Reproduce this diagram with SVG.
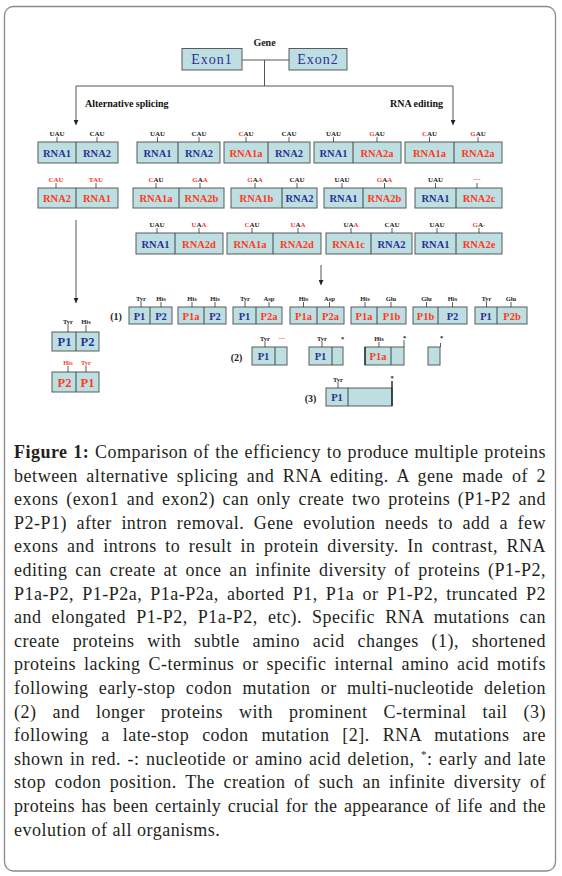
<svg xmlns="http://www.w3.org/2000/svg" width="562" height="876" viewBox="0 0 562 876">
<style>
.bx{fill:#bddfe2;stroke:#5a5a5a;stroke-width:1}
.dv{stroke:#444;stroke-width:1}
.tk{stroke:#333;stroke-width:0.8}
.ln{stroke:#555;stroke-width:1;fill:none}
.rn{font-family:"Liberation Serif",serif;font-size:10.5px;font-weight:bold;text-anchor:middle}
.pn{font-family:"Liberation Serif",serif;font-size:10.5px;font-weight:bold;text-anchor:middle}
.pb{font-family:"Liberation Serif",serif;font-size:12.5px;font-weight:bold;text-anchor:middle}
.cd{font-family:"Liberation Serif",serif;font-size:7px;font-weight:bold;text-anchor:middle;fill:#222}
.pl{font-family:"Liberation Serif",serif;font-size:6.5px;font-weight:bold;text-anchor:middle;fill:#222}
.hd{font-family:"Liberation Serif",serif;font-size:10px;font-weight:bold;fill:#111}
.nm{font-family:"Liberation Serif",serif;font-size:10px;font-weight:bold;text-anchor:middle;fill:#222}
.b{fill:#2c3193}
.r{fill:#ff3a1c}
.cap{font-family:"Liberation Serif",serif;font-size:18px;fill:#231f20;letter-spacing:0.5px}
</style>
<defs>
<marker id="ah" viewBox="0 0 6 6" refX="6" refY="3" markerWidth="5" markerHeight="5" orient="auto" markerUnits="userSpaceOnUse">
<path d="M0,0 L6,3 L0,6 z" fill="#222"/>
</marker>
</defs>
<rect x="4.5" y="6.5" width="551" height="864.5" rx="9" fill="#fff" stroke="#8a8a8a" stroke-width="1.3"/>

<g id="connectors">
<line class="ln" x1="242" y1="60" x2="289" y2="60"/>
<line class="ln" x1="264.5" y1="60" x2="264.5" y2="86"/>
<line class="ln" x1="76" y1="86" x2="453" y2="86"/>
<line class="ln" x1="76" y1="86" x2="76" y2="125" marker-end="url(#ah)"/>
<line class="ln" x1="453" y1="86" x2="453" y2="125" marker-end="url(#ah)"/>
<line class="ln" x1="76" y1="220" x2="76" y2="303" marker-end="url(#ah)"/>
<line class="ln" x1="321" y1="265" x2="321" y2="285" marker-end="url(#ah)"/>
</g>

<g id="gene">
<text class="nm" x="264.5" y="46" font-size="9.5">Gene</text>
</g>
<g id="exon1">
<rect class="bx" x="182" y="48.5" width="60" height="21.5"/>
<text x="212" y="64" font-family="Liberation Serif,serif" font-size="14" letter-spacing="1" text-anchor="middle" class="b">Exon1</text>
</g>
<g id="exon2">
<rect class="bx" x="289" y="48.5" width="58" height="21.5"/>
<text x="318" y="64" font-family="Liberation Serif,serif" font-size="14" letter-spacing="1" text-anchor="middle" class="b">Exon2</text>
</g>
<g id="labels">
<text class="hd" x="85" y="107">Alternative splicing</text>
<text class="hd" x="443" y="107" text-anchor="end">RNA editing</text>
</g>

<!-- Row 1 RNA -->
<g id="rna-r1-a">
<rect class="bx" x="38" y="142" width="80" height="21"/><line class="dv" x1="76" y1="142" x2="76" y2="163"/>
<line class="tk" x1="57" y1="137" x2="57" y2="142"/><line class="tk" x1="97" y1="137" x2="97" y2="142"/>
<text class="cd" x="57" y="135.5">UAU</text><text class="cd" x="97" y="135.5">CAU</text>
<text class="rn b" x="57" y="156.5">RNA1</text><text class="rn b" x="97" y="156.5">RNA2</text>
</g>
<g id="rna-r1-b">
<rect class="bx" x="137" y="142" width="83" height="21"/><line class="dv" x1="178" y1="142" x2="178" y2="163"/>
<line class="tk" x1="157.5" y1="137" x2="157.5" y2="142"/><line class="tk" x1="199" y1="137" x2="199" y2="142"/>
<text class="cd" x="157.5" y="135.5">UAU</text><text class="cd" x="199" y="135.5">CAU</text>
<text class="rn b" x="157.5" y="156.5">RNA1</text><text class="rn b" x="199" y="156.5">RNA2</text>
</g>
<g id="rna-r1-c">
<rect class="bx" x="224" y="142" width="86" height="21"/><line class="dv" x1="268" y1="142" x2="268" y2="163" stroke="#111"/>
<line class="tk" x1="246" y1="137" x2="246" y2="142"/><line class="tk" x1="289" y1="137" x2="289" y2="142"/>
<text class="cd" x="246" y="135.5"><tspan class="r">C</tspan>AU</text><text class="cd" x="289" y="135.5">CAU</text>
<text class="rn r" x="246" y="156.5">RNA1a</text><text class="rn b" x="289" y="156.5">RNA2</text>
</g>
<g id="rna-r1-d">
<rect class="bx" x="314" y="142" width="87" height="21"/><line class="dv" x1="353" y1="142" x2="353" y2="163"/>
<line class="tk" x1="333.5" y1="137" x2="333.5" y2="142"/><line class="tk" x1="377" y1="137" x2="377" y2="142"/>
<text class="cd" x="333.5" y="135.5">UAU</text><text class="cd" x="377" y="135.5"><tspan class="r">G</tspan>AU</text>
<text class="rn b" x="333.5" y="156.5">RNA1</text><text class="rn r" x="377" y="156.5">RNA2a</text>
</g>
<g id="rna-r1-e">
<rect class="bx" x="405" y="142" width="97" height="21"/><line class="dv" x1="454" y1="142" x2="454" y2="163"/>
<line class="tk" x1="429.5" y1="137" x2="429.5" y2="142"/><line class="tk" x1="478" y1="137" x2="478" y2="142"/>
<text class="cd" x="429.5" y="135.5"><tspan class="r">C</tspan>AU</text><text class="cd" x="478" y="135.5"><tspan class="r">G</tspan>AU</text>
<text class="rn r" x="429.5" y="156.5">RNA1a</text><text class="rn r" x="478" y="156.5">RNA2a</text>
</g>

<!-- Row 2 RNA -->
<g id="rna-r2-a">
<rect class="bx" x="38" y="188" width="80" height="20"/><line class="dv" x1="76" y1="188" x2="76" y2="208"/>
<line class="tk" x1="56" y1="183" x2="56" y2="188"/><line class="tk" x1="96" y1="183" x2="96" y2="188"/>
<text class="cd r" x="56" y="181.5">CAU</text><text class="cd r" x="96" y="181.5">TAU</text>
<text class="rn r" x="57" y="202">RNA2</text><text class="rn r" x="97" y="202">RNA1</text>
</g>
<g id="rna-r2-b">
<rect class="bx" x="133" y="188" width="91" height="20"/><line class="dv" x1="179" y1="188" x2="179" y2="208"/>
<line class="tk" x1="156" y1="183" x2="156" y2="188"/><line class="tk" x1="200" y1="183" x2="200" y2="188"/>
<text class="cd" x="156" y="181.5"><tspan class="r">C</tspan>AU</text><text class="cd" x="200" y="181.5"><tspan class="r">G</tspan>A<tspan class="r">A</tspan></text>
<text class="rn r" x="156" y="202">RNA1a</text><text class="rn r" x="201.5" y="202">RNA2b</text>
</g>
<g id="rna-r2-c">
<rect class="bx" x="231" y="188" width="86" height="20"/><line class="dv" x1="282" y1="188" x2="282" y2="208"/>
<line class="tk" x1="255" y1="183" x2="255" y2="188"/><line class="tk" x1="297" y1="183" x2="297" y2="188"/>
<text class="cd" x="255" y="181.5"><tspan class="r">G</tspan>A<tspan class="r">A</tspan></text><text class="cd" x="297" y="181.5">CAU</text>
<text class="rn r" x="256.5" y="202">RNA1b</text><text class="rn b" x="299.5" y="202">RNA2</text>
</g>
<g id="rna-r2-d">
<rect class="bx" x="324" y="188" width="82" height="20"/><line class="dv" x1="363" y1="188" x2="363" y2="208"/>
<line class="tk" x1="342" y1="183" x2="342" y2="188"/><line class="tk" x1="384.5" y1="183" x2="384.5" y2="188"/>
<text class="cd" x="342" y="181.5">UAU</text><text class="cd" x="384.5" y="181.5"><tspan class="r">G</tspan>A<tspan class="r">A</tspan></text>
<text class="rn b" x="343.5" y="202">RNA1</text><text class="rn r" x="384.5" y="202">RNA2b</text>
</g>
<g id="rna-r2-e">
<rect class="bx" x="415" y="188" width="87" height="20"/><line class="dv" x1="456" y1="188" x2="456" y2="208"/>
<line class="tk" x1="435.5" y1="183" x2="435.5" y2="188"/><line class="tk" x1="477" y1="183" x2="477" y2="188"/>
<text class="cd" x="435.5" y="181.5">UAU</text><text class="cd r" x="477" y="180.5">---</text>
<text class="rn b" x="435.5" y="202">RNA1</text><text class="rn r" x="479" y="202">RNA2c</text>
</g>

<!-- Row 3 RNA -->
<g id="rna-r3-a">
<rect class="bx" x="136" y="233" width="87" height="21"/><line class="dv" x1="175" y1="233" x2="175" y2="254"/>
<line class="tk" x1="157" y1="228" x2="157" y2="233"/><line class="tk" x1="199" y1="228" x2="199" y2="233"/>
<text class="cd" x="157" y="226.5">UAU</text><text class="cd" x="199" y="226.5"><tspan class="r">U</tspan>A<tspan class="r">A</tspan></text>
<text class="rn b" x="155.5" y="247.5">RNA1</text><text class="rn r" x="199" y="247.5">RNA2d</text>
</g>
<g id="rna-r3-b">
<rect class="bx" x="227" y="233" width="94" height="21"/><line class="dv" x1="273" y1="233" x2="273" y2="254"/>
<line class="tk" x1="252" y1="228" x2="252" y2="233"/><line class="tk" x1="298" y1="228" x2="298" y2="233"/>
<text class="cd" x="252" y="226.5"><tspan class="r">C</tspan>AU</text><text class="cd" x="298" y="226.5"><tspan class="r">U</tspan>A<tspan class="r">A</tspan></text>
<text class="rn r" x="250" y="247.5">RNA1a</text><text class="rn r" x="297" y="247.5">RNA2d</text>
</g>
<g id="rna-r3-c">
<rect class="bx" x="326" y="233" width="86" height="21"/><line class="dv" x1="371" y1="233" x2="371" y2="254"/>
<line class="tk" x1="351" y1="228" x2="351" y2="233"/><line class="tk" x1="392" y1="228" x2="392" y2="233"/>
<text class="cd" x="351" y="226.5">UA<tspan class="r">A</tspan></text><text class="cd" x="392" y="226.5">CAU</text>
<text class="rn r" x="348.5" y="247.5">RNA1c</text><text class="rn b" x="391.5" y="247.5">RNA2</text>
</g>
<g id="rna-r3-d">
<rect class="bx" x="415" y="233" width="87" height="21"/><line class="dv" x1="456" y1="233" x2="456" y2="254"/>
<line class="tk" x1="437" y1="228" x2="437" y2="233"/><line class="tk" x1="479" y1="228" x2="479" y2="233"/>
<text class="cd" x="437" y="226.5">UAU</text><text class="cd" x="479" y="226.5"><tspan class="r">G</tspan>A<tspan class="r">-</tspan></text>
<text class="rn b" x="435.5" y="247.5">RNA1</text><text class="rn r" x="479" y="247.5">RNA2e</text>
</g>

<!-- Left proteins (alternative splicing) -->
<g id="prot-as-1">
<rect class="bx" x="52" y="332" width="47" height="19"/><line class="dv" x1="76" y1="332" x2="76" y2="351"/>
<line class="tk" x1="68" y1="325" x2="68" y2="332"/><line class="tk" x1="86" y1="325" x2="86" y2="332"/>
<text class="pl" x="68" y="323.5">Tyr</text><text class="pl" x="86" y="323.5">His</text>
<text class="pb b" x="64.5" y="346">P1</text><text class="pb b" x="87.5" y="346">P2</text>
</g>
<g id="prot-as-2">
<rect class="bx" x="52" y="372" width="47" height="20"/><line class="dv" x1="76" y1="372" x2="76" y2="392"/>
<line class="tk" x1="68" y1="366" x2="68" y2="372"/><line class="tk" x1="86" y1="366" x2="86" y2="372"/>
<text class="pl r" x="68" y="364.5">His</text><text class="pl r" x="86" y="364.5">Tyr</text>
<text class="pb r" x="64.5" y="386.5">P2</text><text class="pb r" x="87.5" y="386.5">P1</text>
</g>

<!-- Row (1) proteins -->
<text class="nm" x="116" y="319.5">(1)</text>
<g id="prot-1a">
<rect class="bx" x="129" y="307" width="43" height="17"/><line class="dv" x1="150" y1="307" x2="150" y2="324"/>
<line class="tk" x1="141" y1="302" x2="141" y2="307"/><line class="tk" x1="161" y1="302" x2="161" y2="307"/>
<text class="pl" x="141" y="300.5">Tyr</text><text class="pl" x="161" y="300.5">His</text>
<text class="pn b" x="139.5" y="319.5">P1</text><text class="pn b" x="161" y="319.5">P2</text>
</g>
<g id="prot-1b">
<rect class="bx" x="178" y="307" width="48" height="17"/><line class="dv" x1="204" y1="307" x2="204" y2="324"/>
<line class="tk" x1="192" y1="302" x2="192" y2="307"/><line class="tk" x1="215" y1="302" x2="215" y2="307"/>
<text class="pl" x="192" y="300.5">His</text><text class="pl" x="215" y="300.5">His</text>
<text class="pn r" x="191" y="319.5">P1a</text><text class="pn b" x="215" y="319.5">P2</text>
</g>
<g id="prot-1c">
<rect class="bx" x="233" y="307" width="49" height="17"/><line class="dv" x1="256" y1="307" x2="256" y2="324"/>
<line class="tk" x1="245" y1="302" x2="245" y2="307"/><line class="tk" x1="269" y1="302" x2="269" y2="307"/>
<text class="pl" x="245" y="300.5">Tyr</text><text class="pl" x="269" y="300.5">Asp</text>
<text class="pn b" x="244.5" y="319.5">P1</text><text class="pn r" x="269" y="319.5">P2a</text>
</g>
<g id="prot-1d">
<rect class="bx" x="290" y="307" width="54" height="17"/><line class="dv" x1="317" y1="307" x2="317" y2="324"/>
<line class="tk" x1="303.5" y1="302" x2="303.5" y2="307"/><line class="tk" x1="329.5" y1="302" x2="329.5" y2="307"/>
<text class="pl" x="303.5" y="300.5">His</text><text class="pl" x="329.5" y="300.5">Asp</text>
<text class="pn r" x="303.5" y="319.5">P1a</text><text class="pn r" x="330.5" y="319.5">P2a</text>
</g>
<g id="prot-1e">
<rect class="bx" x="351" y="307" width="55" height="17"/><line class="dv" x1="377" y1="307" x2="377" y2="324"/>
<line class="tk" x1="365" y1="302" x2="365" y2="307"/><line class="tk" x1="391" y1="302" x2="391" y2="307"/>
<text class="pl" x="365" y="300.5">His</text><text class="pl" x="391" y="300.5">Glu</text>
<text class="pn r" x="364" y="319.5">P1a</text><text class="pn r" x="391.5" y="319.5">P1b</text>
</g>
<g id="prot-1f">
<rect class="bx" x="413" y="307" width="54" height="17"/><line class="dv" x1="438" y1="307" x2="438" y2="324"/>
<line class="tk" x1="426.5" y1="302" x2="426.5" y2="307"/><line class="tk" x1="452.5" y1="302" x2="452.5" y2="307"/>
<text class="pl" x="426.5" y="300.5">Glu</text><text class="pl" x="452.5" y="300.5">His</text>
<text class="pn r" x="425.5" y="319.5">P1b</text><text class="pn b" x="452.5" y="319.5">P2</text>
</g>
<g id="prot-1g">
<rect class="bx" x="475" y="307" width="52" height="17"/><line class="dv" x1="497" y1="307" x2="497" y2="324"/>
<line class="tk" x1="486.5" y1="302" x2="486.5" y2="307"/><line class="tk" x1="511" y1="302" x2="511" y2="307"/>
<text class="pl" x="486.5" y="300.5">Tyr</text><text class="pl" x="511" y="300.5">Glu</text>
<text class="pn b" x="486" y="319.5">P1</text><text class="pn r" x="512" y="319.5">P2b</text>
</g>

<!-- Row (2) proteins -->
<text class="nm" x="236.5" y="360.5">(2)</text>
<g id="prot-2a">
<rect class="bx" x="252" y="347" width="35" height="18"/><line class="dv" x1="275" y1="347" x2="275" y2="365" stroke="#111"/>
<line class="tk" x1="265" y1="342" x2="265" y2="347"/>
<text class="pl" x="265" y="340.5">Tyr</text><text class="pl r" x="282" y="340">---</text>
<text class="pn b" x="263.5" y="360">P1</text>
</g>
<g id="prot-2b">
<rect class="bx" x="309" y="347" width="34" height="18"/><line class="dv" x1="332" y1="347" x2="332" y2="365"/>
<line class="tk" x1="322" y1="342" x2="322" y2="347"/>
<text class="pl" x="322" y="340.5">Tyr</text><text class="pl" x="342.5" y="341">*</text>
<text class="pn b" x="320.5" y="360">P1</text>
</g>
<g id="prot-2c">
<rect class="bx" x="365" y="347" width="39" height="18"/><line class="dv" x1="391" y1="347" x2="391" y2="365" stroke="#111"/>
<line x1="365" y1="347" x2="365" y2="365" stroke="#111" stroke-width="1.2"/>
<line class="tk" x1="379" y1="342" x2="379" y2="347"/><line class="tk" x1="404" y1="340" x2="404" y2="347"/>
<text class="pl" x="379" y="340.5">His</text><text class="pl" x="404.5" y="340">*</text>
<text class="pn r" x="378" y="360">P1a</text>
</g>
<g id="prot-2d">
<rect class="bx" x="428" y="347" width="12" height="18"/>
<line class="tk" x1="440.5" y1="343" x2="440.5" y2="347"/>
<text class="pl" x="441.5" y="340">*</text>
</g>

<!-- Row (3) proteins -->
<text class="nm" x="310.5" y="401.5">(3)</text>
<g id="prot-3a">
<rect class="bx" x="326" y="388" width="66" height="18"/><line class="dv" x1="348" y1="388" x2="348" y2="406"/>
<line class="tk" x1="338" y1="383" x2="338" y2="388"/>
<line x1="392" y1="381" x2="392" y2="406" stroke="#111" stroke-width="1.3"/>
<text class="pl" x="338" y="381.5">Tyr</text><text class="pl" x="392" y="380">*</text>
<text class="pn b" x="337" y="401">P1</text>
</g>

<!-- Caption -->
<g id="caption" class="cap">
<text x="14" y="458" textLength="532" lengthAdjust="spacing" word-spacing="0.8"><tspan font-weight="bold">Figure 1:</tspan> Comparison of the efficiency to produce multiple proteins</text>
<text x="14" y="481.6" textLength="532" lengthAdjust="spacing" word-spacing="3.5">between alternative splicing and RNA editing. A gene made of 2</text>
<text x="14" y="505.2" textLength="532" lengthAdjust="spacing" word-spacing="2.7">exons (exon1 and exon2) can only create two proteins (P1-P2 and</text>
<text x="14" y="528.8" textLength="532" lengthAdjust="spacing" word-spacing="4.6">P2-P1) after intron removal. Gene evolution needs to add a few</text>
<text x="14" y="552.4" textLength="532" lengthAdjust="spacing" word-spacing="3.5">exons and introns to result in protein diversity. In contrast, RNA</text>
<text x="14" y="576" textLength="532" lengthAdjust="spacing" word-spacing="2.9">editing can create at once an infinite diversity of proteins (P1-P2,</text>
<text x="14" y="599.6" textLength="532" lengthAdjust="spacing" word-spacing="3.2">P1a-P2, P1-P2a, P1a-P2a, aborted P1, P1a or P1-P2, truncated P2</text>
<text x="14" y="623.2" textLength="532" lengthAdjust="spacing" word-spacing="5.1">and elongated P1-P2, P1a-P2, etc). Specific RNA mutations can</text>
<text x="14" y="646.8" textLength="532" lengthAdjust="spacing" word-spacing="7.8">create proteins with subtle amino acid changes (1), shortened</text>
<text x="14" y="670.4" textLength="532" lengthAdjust="spacing" word-spacing="3.1">proteins lacking C-terminus or specific internal amino acid motifs</text>
<text x="14" y="694" textLength="532" lengthAdjust="spacing" word-spacing="5.3">following early-stop codon mutation or multi-nucleotide deletion</text>
<text x="14" y="717.6" textLength="532" lengthAdjust="spacing" word-spacing="11.1">(2) and longer proteins with prominent C-terminal tail (3)</text>
<text x="14" y="741.2" textLength="532" lengthAdjust="spacing" word-spacing="7.9">following a late-stop codon mutation [2]. RNA mutations are</text>
<text x="14" y="764.8" textLength="532" lengthAdjust="spacing" word-spacing="1.6">shown in red. -: nucleotide or amino acid deletion, <tspan font-size="11" dy="-7">*</tspan><tspan dy="7">: early and late</tspan></text>
<text x="14" y="788.4" textLength="532" lengthAdjust="spacing" word-spacing="3.7">stop codon position. The creation of such an infinite diversity of</text>
<text x="14" y="812" textLength="532" lengthAdjust="spacing" word-spacing="1.7">proteins has been certainly crucial for the appearance of life and the</text>
<text x="14" y="835.6">evolution of all organisms.</text>
</g>
</svg>
